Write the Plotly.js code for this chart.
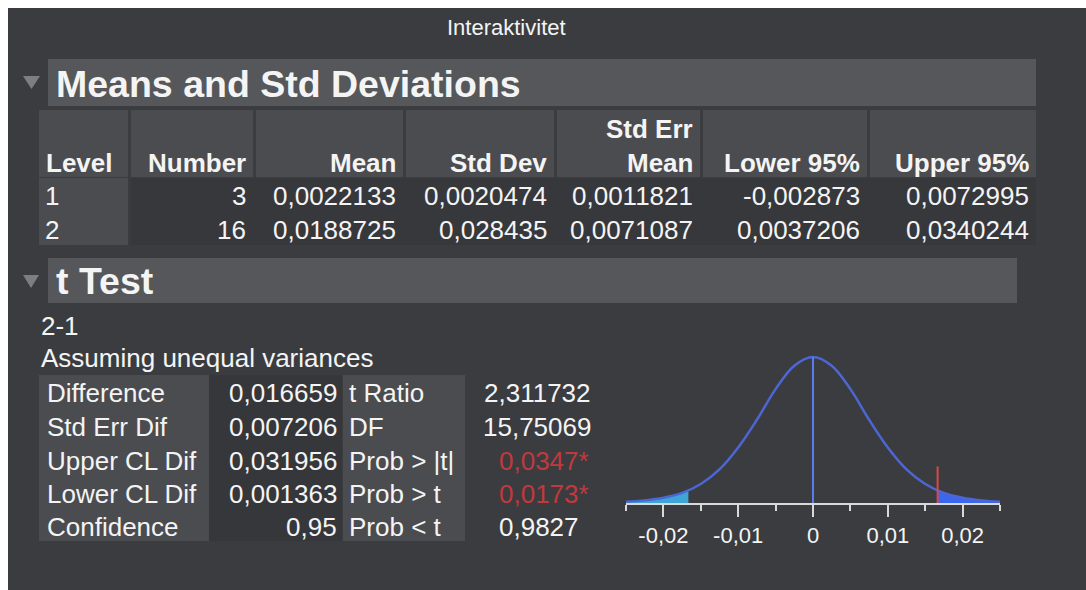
<!DOCTYPE html>
<html>
<head>
<meta charset="utf-8">
<script src="https://cdn.plot.ly/plotly-3.0.1.min.js"></script>
<style>html,body{margin:0;padding:0;background:#fff;}#chart{width:1086px;height:590px;}</style>
</head>
<body>
<div id="chart"></div>
<script>
// ---------- data ----------
const windowTitle = 'Interaktivitet';
const section1Title = 'Means and Std Deviations';
const section2Title = 't Test';
const headerCols = ['Level', 'Number', 'Mean', 'Std Dev', 'Std Err|Mean', 'Lower 95%', 'Upper 95%'];
const levels = ['1', '2'];
const numbers = ['3', '16'];
const means = ['0,0022133', '0,0188725'];
const stdDevs = ['0,0020474', '0,028435'];
const stdErrMeans = ['0,0011821', '0,0071087'];
const lower95 = ['-0,002873', '0,0037206'];
const upper95 = ['0,0072995', '0,0340244'];
const comparison = '2-1';
const assumption = 'Assuming unequal variances';
const tLabels1 = ['Difference', 'Std Err Dif', 'Upper CL Dif', 'Lower CL Dif', 'Confidence'];
const tValues1 = ['0,016659', '0,007206', '0,031956', '0,001363', '0,95'];
const tLabels2 = ['t Ratio', 'DF', 'Prob > |t|', 'Prob > t', 'Prob < t'];
const tValues2 = ['2,311732', '15,75069', '0,0347*', '0,0173*', '0,9827'];
const tValues2Significant = [false, false, true, true, false];
const difference = 0.016659;
// density curve (relative height)
const curveX = [-0.025, -0.0225, -0.02, -0.0175, -0.015, -0.0125, -0.01, -0.0075, -0.005, -0.0025, 0,
                0.0025, 0.005, 0.0075, 0.01, 0.0125, 0.015, 0.0175, 0.02, 0.0225, 0.025];
const curveY = [0.009, 0.018, 0.036, 0.069, 0.13, 0.23, 0.38, 0.57, 0.78, 0.94, 1.0,
                0.94, 0.78, 0.57, 0.38, 0.23, 0.13, 0.069, 0.036, 0.018, 0.009];
const leftTailX = [-0.025, -0.0225, -0.02, -0.0175, -0.016659];
const leftTailY = [0.009, 0.018, 0.036, 0.069, 0.087];
const rightTailX = [0.016659, 0.0175, 0.02, 0.0225, 0.025];
const rightTailY = [0.087, 0.069, 0.036, 0.018, 0.009];
const redLineTop = 0.25;
const tickVals = [-0.02, -0.01, 0, 0.01, 0.02];
const tickText = ['-0,02', '-0,01', '0', '0,01', '0,02'];

// ---------- helpers ----------
const W = 1086, H = 590;
const px = x => x / W;
const py = y => 1 - y / H;
const FONT = 'Liberation Sans, Arial, Helvetica, sans-serif';
const TXT = '#f4f4f4';
const esc = s => s.replace(/&/g, '&amp;').replace(/</g, '&lt;').replace(/>/g, '&gt;');

const shapes = [];
const annotations = [];
function rect(x0, y0, x1, y1, color) {
  shapes.push({type: 'rect', xref: 'paper', yref: 'paper', x0: px(x0), x1: px(x1), y0: py(y1), y1: py(y0),
    fillcolor: color, line: {width: 0}, layer: 'below'});
}
function tri(x0, x1, yTop, yBot) {
  const xm = (x0 + x1) / 2;
  shapes.push({type: 'path', xref: 'paper', yref: 'paper',
    path: `M ${px(x0)} ${py(yTop)} L ${px(x1)} ${py(yTop)} L ${px(xm)} ${py(yBot)} Z`,
    fillcolor: '#7d7e81', line: {width: 0}, layer: 'below'});
}
function text(s, x, y, anchor, size, opts = {}) {
  annotations.push({xref: 'paper', yref: 'paper', x: px(x), y: py(y), xanchor: anchor, yanchor: 'middle',
    text: opts.bold ? '<b>' + esc(s) + '</b>' : esc(s), showarrow: false,
    font: {family: FONT, size: size, color: opts.color || TXT}, borderpad: 0});
}

// ---------- background ----------
rect(8, 8, W, H, '#3b3c40');
// section 1
rect(48, 59, 1036, 106, '#56575b');
tri(23, 40, 76, 89);
text(section1Title, 55, 84, 'left', 37.5, {bold: true});
const colEdges = [[39, 128], [131, 253], [256, 403], [406, 554], [557, 700], [703, 867], [870, 1036]];
colEdges.forEach(c => rect(c[0], 110, c[1], 177, '#4b4c50'));
rect(39, 178, 128, 245, '#4b4c50');
rect(131, 178, 1036, 245, '#37383c');
// headers
headerCols.forEach((h, i) => {
  const parts = h.split('|');
  if (i === 0) { text(parts[0], 45, 163, 'left', 26, {bold: true}); return; }
  const xr = colEdges[i][1] - 6;
  if (parts.length === 2) {
    text(parts[0], xr, 129, 'right', 26, {bold: true});
    text(parts[1], xr, 163, 'right', 26, {bold: true});
  } else {
    text(parts[0], xr, 163, 'right', 26, {bold: true});
  }
});
const rowsY = [196, 230];
const dataCols = [numbers, means, stdDevs, stdErrMeans, lower95, upper95];
levels.forEach((lv, r) => {
  text(lv, 44, rowsY[r], 'left', 26);
  dataCols.forEach((col, c) => text(col[r], colEdges[c + 1][1] - 6, rowsY[r], 'right', 26));
});

// section 2
rect(48, 258, 1017, 303, '#56575b');
tri(23, 39, 275, 288);
text(section2Title, 55, 281, 'left', 37.5, {bold: true});
text(comparison, 40, 326, 'left', 26);
text(assumption, 40, 358, 'left', 26);
rect(39, 375, 209, 541, '#4b4c50');
rect(209, 375, 342, 541, '#36373b');
rect(343, 375, 465, 541, '#4b4c50');
const tRowsY = [393, 427, 461, 494, 527];
tLabels1.forEach((l, i) => {
  text(l, 46, tRowsY[i], 'left', 26);
  text(tValues1[i], 338, tRowsY[i], 'right', 26);
  text(tLabels2[i], 348, tRowsY[i], 'left', 26);
  if (i < 2) text(tValues2[i], 592, tRowsY[i], 'right', 26);
  else text(tValues2[i], 498, tRowsY[i], 'left', 26, {color: tValues2Significant[i] ? '#c0393d' : TXT});
});

// window title
text(windowTitle, 507, 27, 'center', 22);

// ---------- plot ----------
const traces = [
  {x: leftTailX, y: leftTailY, mode: 'lines', line: {width: 0, shape: 'spline'}, fill: 'tozeroy',
   fillcolor: '#3ea6d6', hoverinfo: 'skip'},
  {x: rightTailX, y: rightTailY, mode: 'lines', line: {width: 0, shape: 'spline'}, fill: 'tozeroy',
   fillcolor: '#3a67ee', hoverinfo: 'skip'},
  {x: curveX, y: curveY, mode: 'lines', line: {color: '#4d66d4', width: 2.5, shape: 'spline', smoothing: 1}},
  {x: [0, 0], y: [0, 1], mode: 'lines', line: {color: '#5a7cf2', width: 2}},
  {x: [difference, difference], y: [0, redLineTop], mode: 'lines', line: {color: '#d6494c', width: 2}}
];

const yTopVal = 1.06;
const layout = {
  width: W, height: H,
  margin: {l: 0, r: 0, t: 0, b: 0},
  paper_bgcolor: '#ffffff',
  plot_bgcolor: 'rgba(0,0,0,0)',
  showlegend: false,
  separators: ', ',
  xaxis: {
    domain: [px(626), px(1000)], range: [-0.025, 0.025], fixedrange: true,
    showgrid: false, zeroline: false, showline: true, linecolor: '#d9d9d9', linewidth: 2,
    ticks: 'outside', ticklen: 12, tickwidth: 2, tickcolor: '#d9d9d9',
    tickmode: 'array', tickvals: tickVals, ticktext: tickText,
    tickfont: {family: FONT, size: 22, color: TXT},
    minor: {ticks: 'outside', ticklen: 6, tickwidth: 2, tickcolor: '#d9d9d9', tickmode: 'linear', tick0: -0.025, dtick: 0.01}
  },
  yaxis: {
    domain: [py(503), py(357 - 146 * (yTopVal - 1))], range: [0, yTopVal], visible: false, fixedrange: true
  },
  shapes: shapes,
  annotations: annotations
};

Plotly.newPlot('chart', traces, layout, {displayModeBar: false, staticPlot: true});
</script>
</body>
</html>
